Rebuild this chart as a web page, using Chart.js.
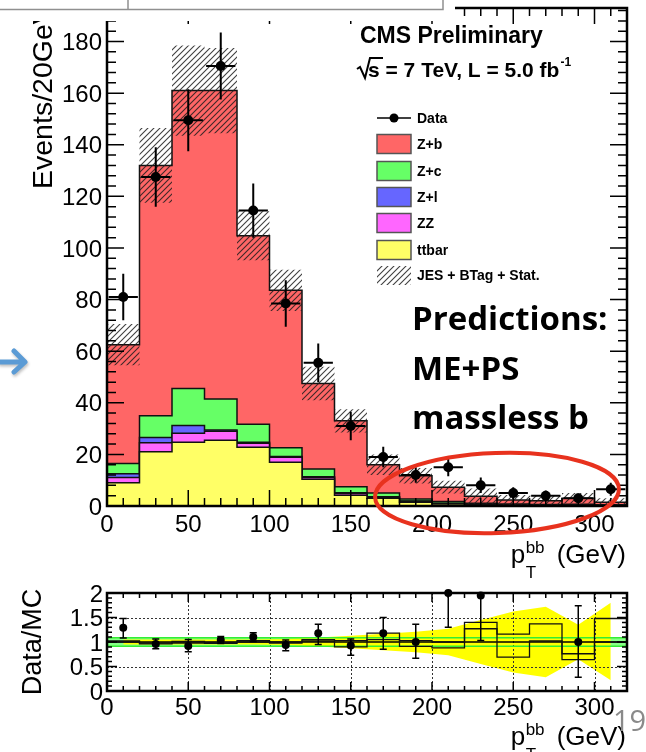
<!DOCTYPE html>
<html>
<head>
<meta charset="utf-8">
<script src="https://cdn.jsdelivr.net/npm/chart.js@4.4.0/dist/chart.umd.min.js"></script>
<style>
  html, body { margin: 0; padding: 0; background: #fff; }
  #wrap { position: relative; width: 646px; height: 752px; overflow: hidden; background: #fff; }
  #wrap canvas { position: absolute; left: 0; }
  #main { top: 0; width: 646px; height: 600px; }
  #ratio { top: 580px; width: 646px; height: 172px; }
</style>
</head>
<body>
<div id="wrap">
  <canvas id="main" width="646" height="600"></canvas>
  <canvas id="ratio" width="646" height="172"></canvas>
</div>
<script>
"use strict";

// 20 GeV bins in pT(bb)
const binEdges = [0, 20, 40, 60, 80, 100, 120, 140, 160, 180, 200, 220, 240, 260, 280, 300, 320];
const binCenters = [10, 30, 50, 70, 90, 110, 130, 150, 170, 190, 210, 230, 250, 270, 290, 310];
const xTicks = [0, 50, 100, 150, 200, 250, 300];
const yTicks = [0, 20, 40, 60, 80, 100, 120, 140, 160, 180];
const ratioTicks = [0, 0.5, 1, 1.5, 2];

// MC components (events / bin), stacked bottom to top
const ttbar   = [9, 21, 24.7, 25.5, 22.8, 17, 10.4, 4.2, 3, 1.5, 0.8, 0.5, 0.3, 0.3, 0.3, 0.2];
const zz      = [2, 3.5, 3.5, 3.5, 1.5, 1.9, 0.6, 0.6, 0.4, 0.3, 0.2, 0.1, 0.1, 0.05, 0.05, 0.05];
const zLight  = [1.5, 2, 3, 0.5, 0.4, 0.3, 0.3, 0.3, 0.2, 0.1, 0.1, 0.05, 0.05, 0.05, 0.05, 0.05];
const zCharm  = [4, 8.5, 14.3, 12, 7, 3.4, 3, 2.4, 1.4, 0.8, 0.6, 0.4, 0.3, 0.2, 0.3, 0.2];
const zBottom = [46, 97, 115.5, 119.5, 73, 61, 33.2, 25.5, 11, 9, 5.6, 2.7, 1.55, 1.4, 2.3, 1.0];
// JES + BTag + Stat. half width on the total
const mcUnc   = [8, 14.5, 17.5, 16.5, 9.5, 8, 6.5, 4.5, 4, 3, 2.5, 3, 2, 2, 2, 1.5];

const dataVals = [81, 127.5, 149.5, 170.5, 114.5, 78.5, 55.5, 31, 19, 12, 15, 8, 5, 4, 3, 6.5];
const dataErr  = [9, 11.5, 12, 13, 10.5, 9, 7.5, 5.5, 4, 3, 3.5, 3, 2.3, 2, 1.8, 2.5];

// Data/MC panel
const ratioVals = [1.29, 0.96, 0.92, 1.04, 1.1, 0.94, 1.18, 0.93, 1.18, 1.0, 2.0, 1.95, null, null, 1.0, null];
const ratioHi   = [1.48, 1.06, 1.05, 1.11, 1.19, 1.04, 1.36, 1.06, 1.5, 1.36, 2.0, 2.0, null, null, 1.74, null];
const ratioLo   = [1.08, 0.86, 0.8, 0.97, 1.01, 0.82, 0.95, 0.73, 0.85, 0.67, 1.3, 1.03, null, null, 0.28, null];
const bandHi    = [1.05, 1.05, 1.05, 1.05, 1.05, 1.06, 1.09, 1.13, 1.17, 1.21, 1.27, 1.45, 1.62, 1.72, 1.35, 1.8];
const bandLo    = [0.95, 0.95, 0.95, 0.95, 0.95, 0.94, 0.91, 0.87, 0.83, 0.79, 0.73, 0.55, 0.38, 0.28, 0.65, 0.22];
const stepUp    = [1.02, 0.98, 1.01, 0.99, 1.03, 1.0, 1.05, 1.03, 1.18, 1.03, 1.0, 1.4, 1.16, 1.37, 0.76, 1.48];
const stepDown  = [1.0, 0.96, 0.98, 0.97, 1.0, 0.98, 1.02, 0.9, 1.05, 0.91, 0.88, 1.27, 0.69, 1.02, 0.64, 1.0];
const normBand  = [0.915, 1.085];

const FONT = '"Liberation Sans", Arial, Helvetica, sans-serif';
const xErr = 9;

const stackStyle = [
    { label: "ttbar", color: "#ffff66" },
    { label: "ZZ", color: "#ff66ff" },
    { label: "Z+l", color: "#6666ff" },
    { label: "Z+c", color: "#66ff66" },
    { label: "Z+b", color: "#ff6666" },
];

// running sums for the stack
const cumulative = [];
let running = ttbar.map(() => 0);
[ttbar, zz, zLight, zCharm, zBottom].forEach((arr) => {
    running = running.map((v, i) => v + arr[i]);
    cumulative.push(running);
});
const total = cumulative[cumulative.length - 1];

function steps(vals) {
    return binEdges.map((e, i) => ({ x: e, y: vals[Math.min(i, vals.length - 1)] }));
}

function makeHatch(ctx) {
    const c = document.createElement("canvas");
    c.width = 6;
    c.height = 6;
    const g = c.getContext("2d");
    g.strokeStyle = "rgba(30,30,30,0.85)";
    g.lineWidth = 1.1;
    g.beginPath();
    g.moveTo(-1, 7); g.lineTo(7, -1);
    g.moveTo(-1, 1); g.lineTo(1, -1);
    g.moveTo(5, 7); g.lineTo(7, 5);
    g.stroke();
    return ctx.createPattern(c, "repeat");
}

function isMultiple(v, step) {
    return Math.abs(v / step - Math.round(v / step)) < 1e-6;
}

// ROOT-like frame: inward ticks on all four sides, labels outside
function drawAxes(chart, cfg) {
    const { ctx, chartArea: a, scales: { x, y } } = chart;
    ctx.save();
    ctx.strokeStyle = "#000";
    ctx.lineWidth = 1.5;
    ctx.beginPath();
    for (let k = 0; k * cfg.xMinor <= x.max + 1e-9; k++) {
        const v = k * cfg.xMinor;
        const px = x.getPixelForValue(v);
        const len = isMultiple(v, cfg.xMajor) ? cfg.xMajorLen : cfg.xMinorLen;
        ctx.moveTo(px, a.bottom); ctx.lineTo(px, a.bottom - len);
        ctx.moveTo(px, a.top); ctx.lineTo(px, a.top + len);
    }
    for (let k = 0; k * cfg.yMinor <= y.max + 1e-9; k++) {
        const v = k * cfg.yMinor;
        const py = y.getPixelForValue(v);
        const len = isMultiple(v, cfg.yMajor) ? cfg.yMajorLen : cfg.yMinorLen;
        ctx.moveTo(a.left, py); ctx.lineTo(a.left + len, py);
        ctx.moveTo(a.right, py); ctx.lineTo(a.right - len, py);
    }
    ctx.stroke();
    ctx.lineWidth = cfg.frameWidth;
    ctx.strokeRect(a.left, a.top, a.right - a.left, a.bottom - a.top);

    ctx.fillStyle = "#000";
    ctx.font = "24px " + FONT;
    ctx.textBaseline = "alphabetic";
    ctx.textAlign = "center";
    cfg.xTicks.forEach((v) => ctx.fillText(String(v), x.getPixelForValue(v), a.bottom + cfg.xLabelBase));
    ctx.textAlign = "right";
    cfg.yTicks.forEach((v) => ctx.fillText(String(v), a.left - cfg.yLabelGap, y.getPixelForValue(v) + 8.6));
    ctx.restore();
}

// p_T^bb (GeV), right edge at xRight
function drawPtTitle(ctx, xRight, base) {
    ctx.save();
    ctx.fillStyle = "#000";
    ctx.textBaseline = "alphabetic";
    ctx.textAlign = "left";
    ctx.font = "26px " + FONT;
    const tail = "(GeV)";
    const wTail = ctx.measureText(tail).width;
    const xTail = xRight - wTail;
    ctx.fillText(tail, xTail, base);
    const xP = xTail - 46;
    ctx.fillText("p", xP, base);
    ctx.font = "17px " + FONT;
    ctx.fillText("bb", xP + 15, base - 10);
    ctx.fillText("T", xP + 15, base + 15);
    ctx.restore();
}

const mainAxes = {
    xTicks: xTicks, yTicks: yTicks,
    xMinor: 10, xMajor: 50, yMinor: 4, yMajor: 20,
    xMajorLen: 16, xMinorLen: 8, yMajorLen: 17, yMinorLen: 9,
    frameWidth: 2.5, xLabelBase: 26, yLabelGap: 5,
};

const ratioAxes = {
    xTicks: xTicks, yTicks: ratioTicks,
    xMinor: 10, xMajor: 50, yMinor: 0.1, yMajor: 0.5,
    xMajorLen: 9, xMinorLen: 5, yMajorLen: 10, yMinorLen: 5,
    frameWidth: 2.5, xLabelBase: 24, yLabelGap: 4,
};

const mainCanvas = document.querySelector("#main");
const hatch = makeHatch(mainCanvas.getContext("2d"));

const legendRows = [
    { label: "Z+b", color: "#ff6666", y: 144 },
    { label: "Z+c", color: "#66ff66", y: 171 },
    { label: "Z+l", color: "#6666ff", y: 197 },
    { label: "ZZ", color: "#ff66ff", y: 223 },
    { label: "ttbar", color: "#ffff66", y: 250 },
];

const mainDecor = {
    id: "mainDecor",
    afterDatasetsDraw(chart) {
        const { ctx, scales: { x, y } } = chart;
        ctx.save();
        ctx.strokeStyle = "#000";
        ctx.lineWidth = 2;
        ctx.beginPath();
        dataVals.forEach((v, i) => {
            const c = binCenters[i];
            const px = x.getPixelForValue(c);
            const py = y.getPixelForValue(v);
            ctx.moveTo(px, y.getPixelForValue(v + dataErr[i]));
            ctx.lineTo(px, y.getPixelForValue(v - dataErr[i]));
            ctx.moveTo(x.getPixelForValue(c - xErr), py);
            ctx.lineTo(x.getPixelForValue(c + xErr), py);
        });
        ctx.stroke();
        ctx.restore();
    },
    afterDraw(chart) {
        const { ctx } = chart;
        drawAxes(chart, mainAxes);

        ctx.save();
        ctx.fillStyle = "#000";

        // y title, reading upwards
        ctx.save();
        ctx.translate(52, 189);
        ctx.rotate(-Math.PI / 2);
        ctx.font = "28.5px " + FONT;
        ctx.textAlign = "left";
        ctx.fillText("Events/20GeV", 0, 0);
        ctx.restore();

        drawPtTitle(ctx, 626, 563);

        // header
        ctx.font = "bold 23px " + FONT;
        ctx.textAlign = "left";
        ctx.fillText("CMS Preliminary", 360, 43);
        ctx.font = "bold 21px " + FONT;
        ctx.fillText("s = 7 TeV, L = 5.0 fb", 368, 77);
        const wHead = ctx.measureText("s = 7 TeV, L = 5.0 fb").width;
        ctx.font = "bold 12px " + FONT;
        ctx.fillText("-1", 368 + wHead + 1, 66);
        ctx.lineWidth = 2;
        ctx.strokeStyle = "#000";
        ctx.beginPath();
        ctx.moveTo(357, 69);
        ctx.lineTo(360, 67);
        ctx.lineTo(365, 78);
        ctx.lineTo(370, 58);
        ctx.lineTo(383, 58);
        ctx.stroke();

        // legend
        ctx.font = "bold 14px " + FONT;
        ctx.lineWidth = 1.5;
        ctx.beginPath();
        ctx.moveTo(377, 118);
        ctx.lineTo(411, 118);
        ctx.stroke();
        ctx.beginPath();
        ctx.arc(394, 118, 4.5, 0, Math.PI * 2);
        ctx.fill();
        ctx.fillText("Data", 417, 123);
        legendRows.forEach((r) => {
            ctx.fillStyle = r.color;
            ctx.fillRect(377, r.y - 9.5, 34, 19);
            ctx.strokeStyle = "#555";
            ctx.strokeRect(377, r.y - 9.5, 34, 19);
            ctx.fillStyle = "#000";
            ctx.fillText(r.label, 417, r.y + 5);
        });
        ctx.fillStyle = hatch;
        ctx.fillRect(377, 266, 34, 19);
        ctx.fillStyle = "#000";
        ctx.fillText("JES + BTag + Stat.", 417, 280);

        // annotation
        ctx.font = 'bold 33px "Open Sans", ' + FONT;
        ctx.fillText("Predictions:", 412, 330);
        ctx.fillText("ME+PS", 412, 380);
        ctx.fillText("massless b", 412, 429);

        ctx.strokeStyle = "#e8321e";
        ctx.lineWidth = 4;
        ctx.beginPath();
        ctx.ellipse(497, 493, 122, 40, -0.035, 0, Math.PI * 2);
        ctx.stroke();

        // arrow at the left margin
        ctx.save();
        ctx.strokeStyle = "#5b9bd5";
        ctx.lineWidth = 5;
        ctx.lineCap = "round";
        ctx.lineJoin = "round";
        ctx.shadowColor = "rgba(0,0,0,0.25)";
        ctx.shadowBlur = 3;
        ctx.shadowOffsetX = 1;
        ctx.shadowOffsetY = 2;
        ctx.beginPath();
        ctx.moveTo(0, 362);
        ctx.lineTo(23, 362);
        ctx.moveTo(14, 351);
        ctx.lineTo(25, 362);
        ctx.lineTo(14, 372);
        ctx.stroke();
        ctx.restore();

        // table edge lying over the top of the plot
        ctx.fillStyle = "#fff";
        ctx.fillRect(0, 0, 455, 21);
        ctx.strokeStyle = "#909090";
        ctx.lineWidth = 1.5;
        ctx.beginPath();
        ctx.moveTo(0, 9.5);
        ctx.lineTo(443, 9.5);
        ctx.lineTo(443, 0);
        ctx.moveTo(128, 0);
        ctx.lineTo(128, 9.5);
        ctx.stroke();
        ctx.restore();
    },
};

const stackSets = cumulative.map((vals, i) => ({
    label: stackStyle[i].label,
    data: steps(vals),
    stepped: true,
    fill: i === 0 ? "origin" : "-1",
    backgroundColor: stackStyle[i].color,
    borderColor: "#111",
    borderWidth: 1.5,
    pointRadius: 0,
    order: 10 + i,
}));

new Chart(mainCanvas, {
    type: "line",
    data: {
        datasets: [
            ...stackSets,
            {
                label: "uncLow",
                data: steps(total.map((v, i) => Math.max(0, v - mcUnc[i]))),
                stepped: true,
                fill: false,
                borderColor: "rgba(0,0,0,0)",
                borderWidth: 1,
                pointRadius: 0,
                order: 6,
            },
            {
                label: "JES + BTag + Stat.",
                data: steps(total.map((v, i) => v + mcUnc[i])),
                stepped: true,
                fill: "-1",
                backgroundColor: hatch,
                borderColor: "rgba(0,0,0,0)",
                borderWidth: 1,
                pointRadius: 0,
                order: 5,
            },
            {
                label: "Data",
                data: binCenters.map((c, i) => ({ x: c, y: dataVals[i] })),
                showLine: false,
                pointRadius: 5,
                pointBackgroundColor: "#000",
                pointBorderColor: "#000",
                pointBorderWidth: 0,
                clip: false,
                order: 1,
            },
        ],
    },
    options: {
        responsive: false,
        animation: false,
        events: [],
        layout: { padding: { left: 107, top: 8, right: 19, bottom: 94 } },
        scales: {
            x: { type: "linear", min: 0, max: 320, display: false },
            y: { type: "linear", min: 0, max: 193, display: false },
        },
        plugins: { legend: { display: false }, tooltip: { enabled: false } },
    },
    plugins: [mainDecor],
});

// ---------- Data/MC ----------
const BAND_HI_INDEX = 3;

const ratioDecor = {
    id: "ratioDecor",
    afterDatasetDraw(chart, args) {
        if (args.index !== BAND_HI_INDEX) return;
        const { ctx, chartArea: a, scales: { x, y } } = chart;
        ctx.save();
        ctx.strokeStyle = "#333";
        ctx.lineWidth = 1;
        ctx.setLineDash([2, 2]);
        ctx.beginPath();
        xTicks.slice(1).forEach((v) => {
            const px = Math.round(x.getPixelForValue(v)) + 0.5;
            ctx.moveTo(px, a.top);
            ctx.lineTo(px, a.bottom);
        });
        [0.5, 1.5].forEach((v) => {
            const py = Math.round(y.getPixelForValue(v)) + 0.5;
            ctx.moveTo(a.left, py);
            ctx.lineTo(a.right, py);
        });
        ctx.stroke();
        ctx.setLineDash([]);
        ctx.strokeStyle = "#000";
        ctx.lineWidth = 1.5;
        ctx.beginPath();
        ctx.moveTo(a.left, y.getPixelForValue(1));
        ctx.lineTo(a.right, y.getPixelForValue(1));
        ctx.stroke();
        ctx.restore();
    },
    afterDatasetsDraw(chart) {
        const { ctx, scales: { x, y } } = chart;
        ctx.save();
        ctx.strokeStyle = "#000";
        ctx.lineWidth = 1.5;
        ctx.beginPath();
        ratioVals.forEach((v, i) => {
            if (v === null) return;
            const px = x.getPixelForValue(binCenters[i]);
            const top = y.getPixelForValue(ratioHi[i]);
            const bot = y.getPixelForValue(ratioLo[i]);
            ctx.moveTo(px, top); ctx.lineTo(px, bot);
            ctx.moveTo(px - 3.5, top); ctx.lineTo(px + 3.5, top);
            ctx.moveTo(px - 3.5, bot); ctx.lineTo(px + 3.5, bot);
        });
        ctx.stroke();
        ctx.restore();
    },
    afterDraw(chart) {
        const { ctx } = chart;
        drawAxes(chart, ratioAxes);
        ctx.save();
        ctx.fillStyle = "#000";
        ctx.save();
        ctx.translate(41, 62);
        ctx.rotate(-Math.PI / 2);
        ctx.font = "27px " + FONT;
        ctx.textAlign = "center";
        ctx.fillText("Data/MC", 0, 0);
        ctx.restore();
        drawPtTitle(ctx, 626, 165);
        ctx.font = '29px "Open Sans", sans-serif';
        ctx.fillStyle = "#8a8a8a";
        ctx.textAlign = "left";
        ctx.fillText("19", 613, 151);
        ctx.restore();
    },
};

const flat = (v) => [{ x: 0, y: v }, { x: 320, y: v }];
const hidden = { borderColor: "rgba(0,0,0,0)", borderWidth: 1, pointRadius: 0 };

new Chart(document.querySelector("#ratio"), {
    type: "line",
    data: {
        datasets: [
            { label: "normLo", data: flat(normBand[0]), fill: false, ...hidden, order: 40 },
            { label: "normHi", data: flat(normBand[1]), fill: "-1", backgroundColor: "#88ff88", ...hidden, order: 39 },
            { label: "bandLo", data: binCenters.map((c, i) => ({ x: c, y: bandLo[i] })), fill: false, ...hidden, order: 38 },
            { label: "bandHi", data: binCenters.map((c, i) => ({ x: c, y: bandHi[i] })), fill: "-1", backgroundColor: "#ffff00", ...hidden, order: 37 },
            { label: "normLine1", data: flat(normBand[0]), fill: false, borderColor: "#33ee33", borderWidth: 1.5, pointRadius: 0, order: 20 },
            { label: "normLine2", data: flat(normBand[1]), fill: false, borderColor: "#33ee33", borderWidth: 1.5, pointRadius: 0, order: 20 },
            { label: "up", data: steps(stepUp), stepped: true, fill: false, borderColor: "#111", borderWidth: 1.3, pointRadius: 0, order: 15 },
            { label: "down", data: steps(stepDown), stepped: true, fill: false, borderColor: "#111", borderWidth: 1.3, pointRadius: 0, order: 15 },
            {
                label: "Data/MC",
                data: binCenters.map((c, i) => ({ x: c, y: ratioVals[i] })),
                showLine: false,
                pointRadius: 4,
                pointBackgroundColor: "#000",
                pointBorderColor: "#000",
                pointBorderWidth: 0,
                clip: false,
                order: 1,
            },
        ],
    },
    options: {
        responsive: false,
        animation: false,
        events: [],
        layout: { padding: { left: 107, top: 13, right: 19, bottom: 61 } },
        scales: {
            x: { type: "linear", min: 0, max: 320, display: false },
            y: { type: "linear", min: 0, max: 2, display: false },
        },
        plugins: { legend: { display: false }, tooltip: { enabled: false } },
    },
    plugins: [ratioDecor],
});
</script>
</body>
</html>
